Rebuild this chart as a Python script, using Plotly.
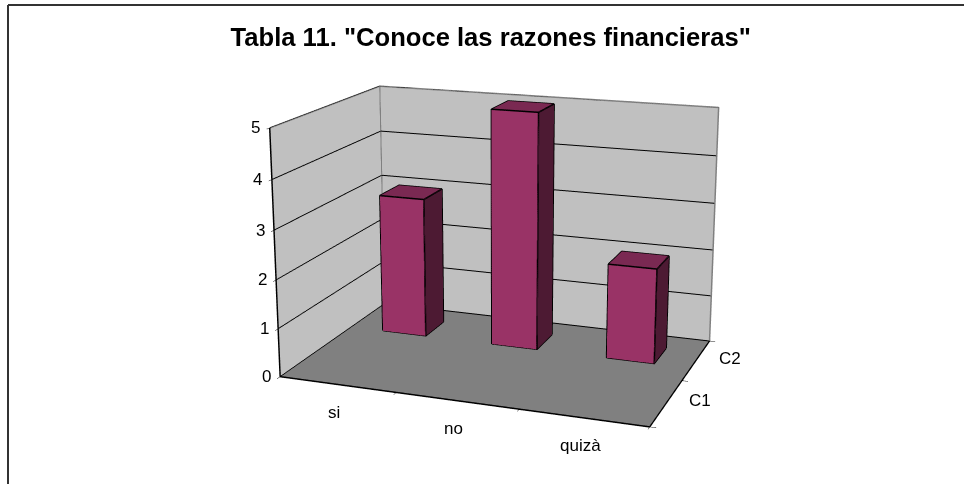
import plotly.graph_objects as go

categories = ["si", "no", "quizà"]
series_names = ["C1", "C2"]
value_ticks = [0, 1, 2, 3, 4, 5]
c2_values = [3, 5, 2]

BAR_FRONT = "#993366"
BAR_SIDE = "#4D1A33"
BAR_TOP = "#7A2952"
WALL = "#C0C0C0"
FLOOR = "#808080"
FONT = "Liberation Sans"

# plotly fixes the 3d field of view, so the scene has to be taller than the
# window to get the weak perspective of the original; the page is shifted up
SCENE_H = 1245
TOP = -382


def py(y):
    return 1 - (y - TOP) / SCENE_H


def bar_traces(i, row, value):
    x0, x1 = i + 0.3, i + 0.7
    y0, y1 = row + 0.3, row + 0.7
    xs = [x0, x1, x1, x0, x0, x1, x1, x0]
    ys = [y0, y0, y1, y1, y0, y0, y1, y1]
    zs = [0, 0, 0, 0, value, value, value, value]
    faces = [
        (0, 1, 5, BAR_FRONT), (0, 5, 4, BAR_FRONT),
        (1, 2, 6, BAR_SIDE), (1, 6, 5, BAR_SIDE),
        (4, 5, 6, BAR_TOP), (4, 6, 7, BAR_TOP),
    ]
    mesh = go.Mesh3d(
        x=xs, y=ys, z=zs,
        i=[f[0] for f in faces], j=[f[1] for f in faces], k=[f[2] for f in faces],
        facecolor=[f[3] for f in faces], flatshading=True,
        lighting=dict(ambient=1, diffuse=0, specular=0, fresnel=0),
        hoverinfo="skip", showscale=False,
    )
    path = [0, 1, 2, None, 0, 4, 5, 6, 7, 4, None, 1, 5, None, 2, 6]
    edges = go.Scatter3d(
        x=[xs[p] if p is not None else None for p in path],
        y=[ys[p] if p is not None else None for p in path],
        z=[zs[p] if p is not None else None for p in path],
        mode="lines", line=dict(color="black", width=3), hoverinfo="skip",
    )
    return [mesh, edges]


fig = go.Figure()
for n, v in enumerate(c2_values):
    for t in bar_traces(n, 1, v):
        fig.add_trace(t)

# grey outline of the walls
fig.add_trace(go.Scatter3d(
    x=[0, 0, 3, 3, None, 0, 0], y=[0, 2, 2, 2, None, 2, 2], z=[5, 5, 5, 0, None, 0, 5],
    mode="lines", line=dict(color=FLOOR, width=3), hoverinfo="skip",
))

axis_font = dict(family=FONT, size=17, color="black")
labels = []
for n, c in enumerate(categories):
    labels.append(dict(x=n + 0.5, y=0, z=0, text=c, showarrow=False, xshift=-3, yshift=-28,
                       font=axis_font))
for n, s in enumerate(series_names):
    labels.append(dict(x=3, y=n + 0.5, z=0, text=s, showarrow=False, xshift=34, yshift=2,
                       font=axis_font))
for v in value_ticks:
    labels.append(dict(x=0, y=0, z=v, text=str(v), showarrow=False, xshift=-14, font=axis_font))

fig.update_layout(
    width=964, height=SCENE_H, margin=dict(l=0, r=0, t=0, b=0),
    paper_bgcolor="white", showlegend=False,
    title=dict(text='Tabla 11. "Conoce las razones financieras"', x=0.509, y=py(37),
               xanchor="center", yanchor="middle",
               font=dict(family=FONT, size=25.6, color="black", weight="bold")),
    shapes=[
        dict(type="line", xref="paper", yref="paper", x0=8 / 964, x1=1, y0=py(5), y1=py(5),
             line=dict(color="#333333", width=2)),
        dict(type="line", xref="paper", yref="paper", x0=8 / 964, x1=8 / 964, y0=py(5), y1=py(484),
             line=dict(color="#333333", width=2)),
    ],
    scene=dict(
        domain=dict(x=[0.0415, 1], y=[0, 1]),
        aspectmode="manual", aspectratio=dict(x=1, y=0.665, z=0.665),
        camera=dict(eye=dict(x=1.318, y=-3.623, z=1.068), up=dict(x=0, y=0, z=1),
                    center=dict(x=0, y=0, z=0), projection=dict(type="perspective")),
        annotations=labels,
        xaxis=dict(range=[0, 3], tickvals=[0, 1, 2, 3], title="", showticklabels=False,
                   showgrid=False, zeroline=False, showbackground=True, backgroundcolor=WALL,
                   showline=True, linecolor="black", linewidth=3, ticks="outside", ticklen=5,
                   tickcolor="black", showspikes=False),
        yaxis=dict(range=[0, 2], tickvals=[0, 1, 2], title="", showticklabels=False,
                   showgrid=False, zeroline=False, showbackground=True, backgroundcolor=WALL,
                   showline=True, linecolor="black", linewidth=3, ticks="outside", ticklen=5,
                   tickcolor="black", showspikes=False),
        zaxis=dict(range=[0, 5], tickvals=value_ticks, title="", showticklabels=False,
                   showgrid=True, gridcolor="black", gridwidth=2, zeroline=False,
                   showbackground=True, backgroundcolor=FLOOR,
                   showline=True, linecolor="black", linewidth=3, ticks="outside", ticklen=5,
                   tickcolor="black", showspikes=False),
    ),
)

shift_page = (
    "document.documentElement.style.overflow='hidden';"
    "document.body.style.margin='0';"
    "document.getElementById('{plot_id}').style.marginTop='%dpx';" % TOP
)
fig.write_html("out.html", post_script=shift_page)
